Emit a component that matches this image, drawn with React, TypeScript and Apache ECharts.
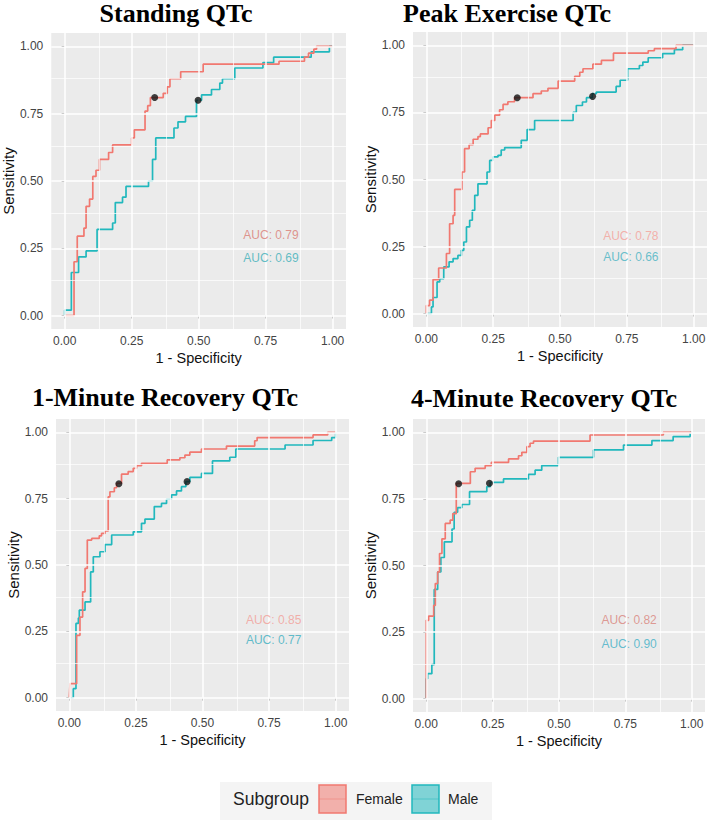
import React, { useEffect, useRef } from "react";
import * as echarts from "echarts";

const panelTitles = ["Standing QTc", "Peak Exercise QTc", "1-Minute Recovery QTc", "4-Minute Recovery QTc"];
const tickValues = [0, 0.25, 0.5, 0.75, 1];
const minorValues = [0.125, 0.375, 0.625, 0.875];
const subgroups = ["Female", "Male"];
const xAxisTitle = "1 - Specificity";
const yAxisTitle = "Sensitivity";
const legendTitle = "Subgroup";

// ROC step curves: [1 - specificity, sensitivity] at each rise
const standingFemale = [[0,0],[0.035,0.20],[0.047,0.295],[0.072,0.325],[0.080,0.406],[0.093,0.433],[0.105,0.517],[0.117,0.54],[0.130,0.58],[0.164,0.606],[0.179,0.634],[0.25,0.66],[0.26,0.69],[0.30,0.76],[0.31,0.78],[0.32,0.81],[0.368,0.826],[0.383,0.85],[0.393,0.88],[0.433,0.906],[0.517,0.934],[0.80,0.945],[0.895,0.96],[0.91,0.975],[0.93,0.99],[0.94,1.0],[1,1]];
const standingMale = [[0,0],[0,0.02],[0.025,0.16],[0.052,0.218],[0.080,0.24],[0.121,0.32],[0.179,0.344],[0.189,0.42],[0.216,0.44],[0.229,0.48],[0.313,0.50],[0.328,0.58],[0.340,0.66],[0.408,0.697],[0.423,0.72],[0.451,0.74],[0.492,0.80],[0.511,0.82],[0.548,0.84],[0.579,0.864],[0.589,0.88],[0.635,0.92],[0.74,0.94],[0.78,0.96],[0.92,0.98],[0.988,1.0],[1,1]];
const peakFemale = [[0,0],[0,0.03],[0.012,0.05],[0.025,0.127],[0.046,0.17],[0.075,0.224],[0.087,0.335],[0.10,0.366],[0.106,0.463],[0.133,0.528],[0.143,0.615],[0.16,0.63],[0.175,0.65],[0.193,0.66],[0.202,0.67],[0.231,0.693],[0.243,0.72],[0.256,0.74],[0.274,0.76],[0.287,0.78],[0.305,0.79],[0.33,0.805],[0.399,0.82],[0.43,0.83],[0.455,0.84],[0.493,0.867],[0.555,0.885],[0.574,0.90],[0.586,0.913],[0.623,0.93],[0.655,0.944],[0.70,0.971],[0.83,0.98],[0.853,0.988],[0.934,1.0],[1,1]];
const peakMale = [[0,0],[0.019,0.025],[0.025,0.06],[0.04,0.118],[0.05,0.13],[0.065,0.174],[0.085,0.193],[0.10,0.205],[0.118,0.217],[0.131,0.236],[0.14,0.267],[0.15,0.323],[0.162,0.348],[0.172,0.385],[0.181,0.441],[0.193,0.484],[0.227,0.528],[0.237,0.571],[0.249,0.584],[0.268,0.59],[0.28,0.61],[0.293,0.619],[0.355,0.646],[0.377,0.686],[0.405,0.72],[0.549,0.75],[0.561,0.776],[0.584,0.789],[0.599,0.805],[0.621,0.82],[0.636,0.826],[0.71,0.847],[0.725,0.87],[0.753,0.913],[0.797,0.925],[0.81,0.938],[0.83,0.954],[0.884,0.969],[0.928,0.984],[0.959,1.0],[1,1]];
const recovery1Female = [[0,0],[0.0025,0.053],[0.0275,0.235],[0.04,0.304],[0.05,0.399],[0.059,0.487],[0.0675,0.594],[0.084,0.60],[0.1125,0.61],[0.121,0.619],[0.134,0.628],[0.146,0.757],[0.1525,0.776],[0.169,0.791],[0.1775,0.808],[0.196,0.842],[0.221,0.852],[0.24,0.864],[0.2525,0.874],[0.271,0.883],[0.3675,0.896],[0.415,0.904],[0.434,0.914],[0.4525,0.925],[0.496,0.937],[0.59,0.948],[0.696,0.968],[0.705,0.98],[0.915,0.99],[0.97,1.0],[1,1]];
const recovery1Male = [[0,0],[0.015,0.034],[0.025,0.28],[0.034,0.30],[0.0375,0.33],[0.059,0.361],[0.08,0.474],[0.09,0.531],[0.115,0.55],[0.134,0.577],[0.159,0.613],[0.24,0.625],[0.271,0.657],[0.284,0.673],[0.319,0.72],[0.346,0.732],[0.365,0.748],[0.384,0.764],[0.4025,0.779],[0.421,0.795],[0.4375,0.814],[0.4525,0.83],[0.496,0.845],[0.5375,0.892],[0.6025,0.906],[0.625,0.937],[0.81,0.952],[0.915,0.969],[0.985,0.98],[1,1]];
const recovery4Female = [[0,0],[0,0.294],[0.009,0.31],[0.028,0.35],[0.034,0.432],[0.043,0.476],[0.05,0.545],[0.059,0.60],[0.0715,0.658],[0.09,0.67],[0.10,0.695],[0.113,0.808],[0.166,0.852],[0.184,0.865],[0.222,0.875],[0.245,0.887],[0.31,0.90],[0.3475,0.912],[0.36,0.925],[0.379,0.946],[0.391,0.959],[0.404,0.967],[0.617,0.99],[0.893,1.0],[1,1]];
const recovery4Male = [[0,0],[0,0.075],[0.005,0.094],[0.021,0.128],[0.03,0.41],[0.043,0.476],[0.055,0.53],[0.068,0.589],[0.097,0.637],[0.105,0.70],[0.118,0.717],[0.134,0.729],[0.163,0.777],[0.228,0.796],[0.241,0.812],[0.291,0.825],[0.385,0.842],[0.41,0.858],[0.435,0.875],[0.498,0.906],[0.63,0.934],[0.743,0.952],[0.85,0.969],[0.93,0.984],[0.994,1.0],[1,1]];

const femaleCurves = [standingFemale, peakFemale, recovery1Female, recovery4Female];
const maleCurves = [standingMale, peakMale, recovery1Male, recovery4Male];
const cutoffFemale = [[0.336, 0.81], [0.34, 0.805], [0.186, 0.806], [0.122, 0.807]];
const cutoffMale = [[0.498, 0.80], [0.622, 0.81], [0.442, 0.814], [0.238, 0.809]];
const aucFemale = ["0.79", "0.78", "0.85", "0.82"];
const aucMale = ["0.69", "0.66", "0.77", "0.90"];
const aucFemalePos = [[0.77, 0.30], [0.765, 0.29], [0.767, 0.294], [0.764, 0.297]];
const aucMalePos = [[0.77, 0.215], [0.765, 0.21], [0.767, 0.219], [0.764, 0.204]];

// layout (pixels)
const grids = [
  { left: 50, top: 33, width: 296, height: 296 },
  { left: 413, top: 32, width: 294, height: 295 },
  { left: 56, top: 419, width: 293, height: 292 },
  { left: 413, top: 419, width: 292, height: 293 },
];
const titlePos = [[176, 13], [507, 13], [165, 397], [544, 398]];
const FEMALE = "#F17870";
const MALE = "#21B8BD";
const aucFemaleColor = ["#DA7C73", "#F4A199", "#F29E97", "#D9837B"];
const aucMaleColor = ["#3CAFB9", "#45B2C2", "#3AAEC0", "#3FAFC6"];
const SANS = '"Liberation Sans", Arial, sans-serif';
const SERIF = '"Liberation Serif", "Times New Roman", serif';

export default function App() {
  const ref = useRef<HTMLDivElement>(null);
  useEffect(() => {
    document.body.style.margin = "0";
    const chart = echarts.init(ref.current!, null, { renderer: "svg" });
    const grid: any[] = [];
    const xAxis: any[] = [];
    const yAxis: any[] = [];
    const series: any[] = [];
    const graphic: any[] = [];
    const gridLines = (dim: "xAxis" | "yAxis") => [
      ...tickValues.map((v) => ({ [dim]: v, lineStyle: { color: "#FFFFFF", width: 1.5, type: "solid" } })),
      ...minorValues.map((v) => ({ [dim]: v, lineStyle: { color: "#FFFFFF", width: 0.7, type: "solid" } })),
    ];
    grids.forEach((g, i) => {
      grid.push({ ...g, show: true, backgroundColor: "#EBEBEB", borderWidth: 0, containLabel: false });
      const common = {
        gridIndex: i,
        type: "value",
        min: -0.05,
        max: 1.05,
        axisLine: { show: false },
        axisTick: { show: true, customValues: tickValues, length: 3, lineStyle: { color: "#333333", width: 1 } },
        splitLine: { show: false },
        nameLocation: "middle",
        nameTextStyle: { fontSize: 14.5, color: "#111111", fontFamily: SANS },
      };
      xAxis.push({
        ...common,
        name: xAxisTitle,
        nameGap: 21,
        axisLabel: { customValues: tickValues, formatter: (v: number) => v.toFixed(2), fontSize: 12, color: "#444444", margin: 6, fontFamily: SANS },
      });
      yAxis.push({
        ...common,
        name: yAxisTitle,
        nameGap: 32,
        nameTextStyle: { fontSize: 15, color: "#111111", fontFamily: SANS },
        axisLabel: { customValues: tickValues, formatter: (v: number) => v.toFixed(2), fontSize: 12, color: "#444444", margin: 8, fontFamily: SANS },
      });
      series.push({
        type: "line",
        xAxisIndex: i,
        yAxisIndex: i,
        data: [],
        z: 1,
        silent: true,
        markLine: {
          silent: true,
          symbol: ["none", "none"],
          label: { show: false },
          emphasis: { disabled: true },
          data: [...gridLines("xAxis"), ...gridLines("yAxis")],
        },
      });
      [femaleCurves[i], maleCurves[i]].forEach((curve, k) => {
        series.push({
          type: "line",
          name: subgroups[k],
          xAxisIndex: i,
          yAxisIndex: i,
          data: curve,
          step: "end",
          showSymbol: false,
          symbol: "none",
          z: 3 + (1 - k),
          lineStyle: { color: k === 0 ? FEMALE : MALE, width: 1.7 },
          itemStyle: { color: k === 0 ? FEMALE : MALE },
          silent: true,
        });
      });
      series.push({
        type: "scatter",
        xAxisIndex: i,
        yAxisIndex: i,
        data: [cutoffFemale[i], cutoffMale[i]],
        symbolSize: 7,
        itemStyle: { color: "#111111" },
        z: 6,
        silent: true,
      });
      series.push({
        type: "scatter",
        xAxisIndex: i,
        yAxisIndex: i,
        symbolSize: 0,
        z: 7,
        silent: true,
        label: { show: true, position: "inside", formatter: "{b}", fontSize: 12, fontFamily: SANS },
        data: [
          { name: "AUC: " + aucFemale[i], value: aucFemalePos[i], label: { color: aucFemaleColor[i] } },
          { name: "AUC: " + aucMale[i], value: aucMalePos[i], label: { color: aucMaleColor[i] } },
        ],
      });
      graphic.push({
        type: "text",
        x: titlePos[i][0],
        y: titlePos[i][1],
        style: { text: panelTitles[i], font: `bold 26px ${SERIF}`, fill: "#000000", align: "center", verticalAlign: "middle" },
      });
    });
    // legend
    const keyColors = [FEMALE, MALE];
    const keyFill = ["rgba(241,120,112,0.55)", "rgba(33,184,189,0.55)"];
    const keyX = [319, 412];
    const labelX = [356, 448];
    graphic.push({ type: "rect", shape: { x: 220, y: 782, width: 272, height: 38 }, style: { fill: "#F4F4F4" } });
    graphic.push({
      type: "text", x: 233, y: 799,
      style: { text: legendTitle, font: `17.5px ${SANS}`, fill: "#222222", align: "left", verticalAlign: "middle" },
    });
    subgroups.forEach((s, k) => {
      graphic.push({ type: "rect", shape: { x: keyX[k], y: 785, width: 27, height: 28 }, style: { fill: keyFill[k], stroke: keyColors[k], lineWidth: 1.5 } });
      graphic.push({ type: "line", shape: { x1: keyX[k], y1: 799, x2: keyX[k] + 27, y2: 799 }, style: { stroke: keyColors[k], lineWidth: 1, opacity: 0.5 } });
      graphic.push({
        type: "text", x: labelX[k], y: 799,
        style: { text: s, font: `14px ${SANS}`, fill: "#222222", align: "left", verticalAlign: "middle" },
      });
    });
    chart.setOption({
      animation: false,
      textStyle: { fontFamily: SANS },
      grid,
      xAxis,
      yAxis,
      series,
      graphic,
    });
    return () => chart.dispose();
  }, []);
  return <div ref={ref} style={{ width: 709, height: 823 }} />;
}
